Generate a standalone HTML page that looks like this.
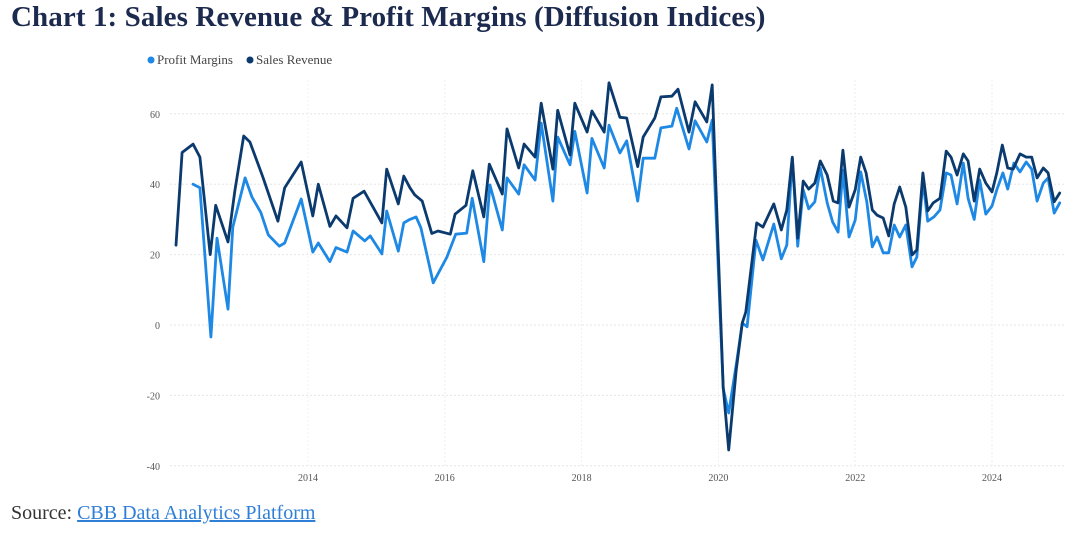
<!DOCTYPE html>
<html>
<head>
<meta charset="utf-8">
<style>
  html,body{margin:0;padding:0;background:#fff;}
  body{width:1074px;height:534px;position:relative;overflow:hidden;font-family:"Liberation Serif",serif;}
  #title{position:absolute;left:11px;top:1px;font-size:29px;font-weight:bold;color:#1b2a4e;letter-spacing:0.1px;}
  #source{position:absolute;left:11px;top:502px;font-size:20px;color:#333;}
  #source a{color:#2f7fd6;text-decoration:underline;}
  svg{position:absolute;left:0;top:0;}
</style>
</head>
<body>
<div id="title">Chart 1: Sales Revenue &amp; Profit Margins (Diffusion Indices)</div>
<svg id="chart" width="1074" height="534"></svg>
<div id="source">Source: <a>CBB Data Analytics Platform</a></div>
<script>
const yTicks = [60, 40, 20, 0, -20, -40];
const xTicks = [2014, 2016, 2018, 2020, 2022, 2024];
const salesDates = [2012.07,2012.16,2012.32,2012.42,2012.57,2012.65,2012.83,2012.93,2013.06,2013.15,2013.34,2013.56,2013.66,2013.90,2014.07,2014.15,2014.32,2014.41,2014.57,2014.66,2014.82,2015.08,2015.15,2015.32,2015.40,2015.49,2015.56,2015.67,2015.81,2015.90,2016.08,2016.15,2016.31,2016.41,2016.57,2016.65,2016.84,2016.91,2017.08,2017.16,2017.32,2017.41,2017.58,2017.65,2017.83,2017.90,2018.08,2018.15,2018.33,2018.40,2018.56,2018.66,2018.82,2018.90,2019.07,2019.16,2019.32,2019.41,2019.57,2019.66,2019.83,2019.91,2020.07,2020.15,2020.26,2020.35,2020.40,2020.56,2020.65,2020.81,2020.92,2021.00,2021.08,2021.16,2021.24,2021.32,2021.41,2021.49,2021.59,2021.68,2021.75,2021.82,2021.91,2022.00,2022.08,2022.16,2022.25,2022.32,2022.41,2022.49,2022.57,2022.65,2022.74,2022.83,2022.90,2022.99,2023.06,2023.14,2023.24,2023.33,2023.40,2023.49,2023.58,2023.65,2023.74,2023.82,2023.91,2024.00,2024.07,2024.15,2024.23,2024.31,2024.41,2024.50,2024.58,2024.66,2024.75,2024.82,2024.91,2024.99];
const salesValues = [22.7,49,51.4,47.7,20,34,23.6,38,53.7,52,42,29.5,39,46.3,31,40,28,31,27.6,36,38,29,44.3,34.4,42.3,39,37,35.2,26,26.7,25.8,31.5,34,43.8,30.7,45.7,37.2,55.7,44.6,51.4,47.7,63,44.3,61,48.3,63,54.8,60.8,54.8,68.8,59,58.8,45,53.4,58.8,64.8,65,67,54.8,63.4,57.7,68.2,-17.6,-35.5,-12.8,0.6,3.7,29,27.8,34.4,27,32.7,47.7,24.7,40.9,38.6,40.3,46.6,42.6,35.2,34.7,49.7,33.5,38.4,47.7,43.2,32.7,31.2,30.4,25.3,34.4,39.2,33.5,19.9,21.3,43.2,32.4,34.7,36,49.4,47.7,42.6,48.6,46.6,35.2,44.3,40.3,37.8,43.2,51.1,44.6,44.3,48.6,47.7,47.7,41.8,44.6,43.2,35,37.5];
const profitDates = [2012.32,2012.42,2012.58,2012.67,2012.83,2012.90,2013.08,2013.18,2013.31,2013.42,2013.58,2013.66,2013.90,2014.07,2014.15,2014.32,2014.41,2014.57,2014.66,2014.83,2014.91,2015.08,2015.15,2015.32,2015.40,2015.49,2015.58,2015.65,2015.83,2016.03,2016.16,2016.32,2016.40,2016.57,2016.66,2016.84,2016.91,2017.08,2017.16,2017.32,2017.41,2017.58,2017.65,2017.83,2017.90,2018.08,2018.15,2018.33,2018.40,2018.56,2018.66,2018.82,2018.90,2019.07,2019.16,2019.32,2019.39,2019.57,2019.66,2019.83,2019.91,2020.07,2020.15,2020.27,2020.35,2020.42,2020.55,2020.65,2020.81,2020.92,2021.00,2021.08,2021.16,2021.24,2021.32,2021.41,2021.49,2021.59,2021.67,2021.75,2021.82,2021.91,2022.00,2022.08,2022.17,2022.25,2022.32,2022.41,2022.49,2022.57,2022.65,2022.74,2022.83,2022.90,2022.99,2023.06,2023.15,2023.24,2023.33,2023.40,2023.49,2023.58,2023.65,2023.74,2023.82,2023.91,2024.00,2024.07,2024.16,2024.23,2024.32,2024.41,2024.50,2024.58,2024.66,2024.75,2024.82,2024.91,2024.99];
const profitValues = [40,39,-3.4,24.7,4.5,27.8,41.8,36.4,32,25.6,22.4,23.3,35.8,20.7,23.3,18,22,20.7,26.7,23.9,25.3,20.2,32.4,21,29,30,30.7,27.6,12,19.3,25.8,26.1,36,18,39.8,27,41.8,37.2,45.5,41.2,57.4,35.2,53.4,45.5,55,37.5,53,44.6,56.8,48.9,52.3,35.2,47.4,47.4,56,56.5,61.6,50,58,52,58.2,-18,-25,-10,0.6,-0.5,24.1,18.5,28.7,18.8,22.7,47.4,22.4,38.4,33,35,44.6,34.7,29.3,26.4,44,25,29.8,43.5,35,22.2,25,20.5,20.5,28.4,25,28.4,16.5,19.3,41.2,29.5,30.7,32.7,43.2,42.6,34.4,46,36,30,41.2,31.5,33.8,38.4,43.2,38.6,46,43.5,46.3,44.3,35.2,40.3,41.8,31.8,34.7];

const svg = document.getElementById('chart');
const NS = 'http://www.w3.org/2000/svg';
const xScale = t => 308 + (t - 2014) * 68.4;
const yScale = v => 325 - v * 3.52;
const X0 = 170, X1 = 1066;

function mk(tag, attrs, parent) {
  const el = document.createElementNS(NS, tag);
  for (const k in attrs) el.setAttribute(k, attrs[k]);
  (parent || svg).appendChild(el);
  return el;
}

yTicks.forEach(v => {
  const g = mk('line', {x1: X0, x2: X1, y1: yScale(v), y2: yScale(v), stroke: '#e6e6e6', 'stroke-width': 1, 'stroke-dasharray': '2,2'});
  
  
  const t = mk('text', {x: 160, y: yScale(v) + 4, 'text-anchor': 'end', 'font-size': 10, fill: '#555', 'font-family': 'Liberation Serif, serif'});
  t.textContent = v;
  
  
});
xTicks.forEach(yr => {
  const g = mk('line', {x1: xScale(yr), x2: xScale(yr), y1: 80, y2: 466, stroke: '#f0f0f0', 'stroke-width': 1, 'stroke-dasharray': '2,2'});
  
  
  const t = mk('text', {x: xScale(yr), y: 481, 'text-anchor': 'middle', 'font-size': 10, fill: '#555', 'font-family': 'Liberation Serif, serif'});
  t.textContent = yr;
  
  
});

function drawLine(dates, vals, color, name) {
  const d = dates.map((t, i) => (i ? 'L' : 'M') + xScale(t).toFixed(1) + ',' + yScale(vals[i]).toFixed(1)).join('');
  const p = mk('path', {d: d, fill: 'none', stroke: color, 'stroke-width': 2.8, 'stroke-linejoin': 'round', 'stroke-linecap': 'round'});
  
  
}
drawLine(profitDates, profitValues, '#1e88e5', 'profit-margins-line');
drawLine(salesDates, salesValues, '#0b3a6e', 'sales-revenue-line');

// legend
const l1 = mk('circle', {cx: 151, cy: 60, r: 3.5, fill: '#1e88e5'});


const t1 = mk('text', {x: 157, y: 64, 'font-size': 13, fill: '#444', 'font-family': 'Liberation Serif, serif'});
t1.textContent = 'Profit Margins';


const l2 = mk('circle', {cx: 250, cy: 60, r: 3.5, fill: '#0b3a6e'});


const t2 = mk('text', {x: 256, y: 64, 'font-size': 13, fill: '#444', 'font-family': 'Liberation Serif, serif'});
t2.textContent = 'Sales Revenue';


</script>
</body>
</html>
